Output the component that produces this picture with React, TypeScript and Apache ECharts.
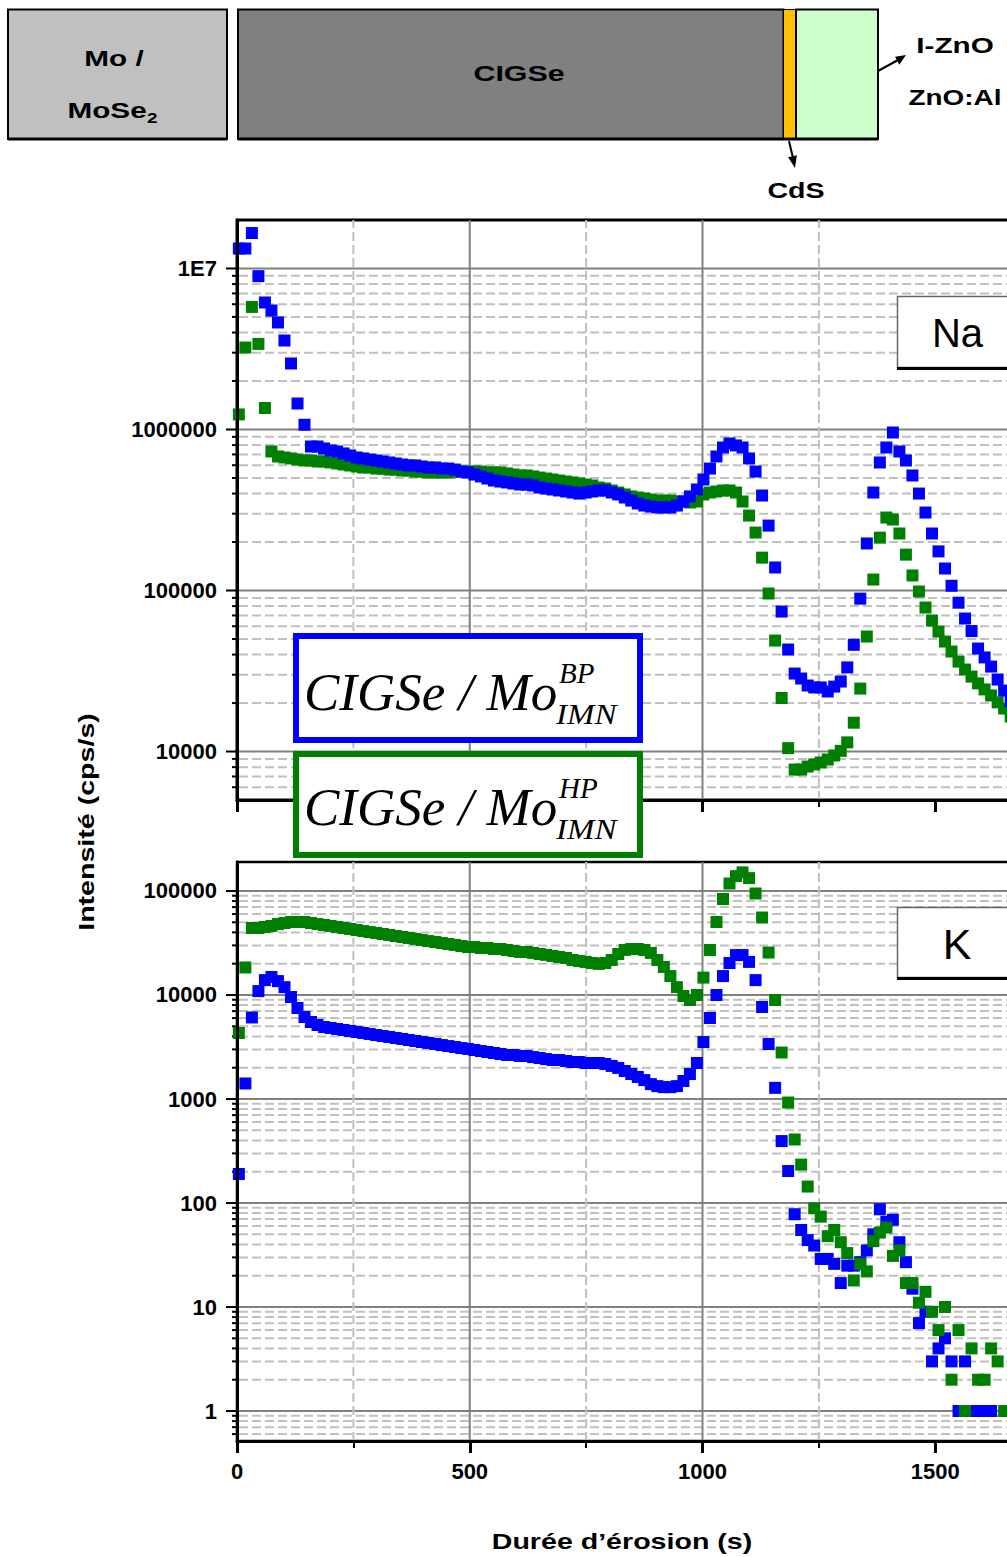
import React, { useEffect, useRef } from "react";
import * as echarts from "echarts";

// ---------- data ----------
// sputter times (s) shared by all four profiles
const times = [
  4, 18, 32, 46, 60, 74, 88, 102, 116, 130,
  145, 159, 173, 187, 201, 215, 229, 243, 257, 271,
  285, 299, 313, 327, 341, 355, 369, 383, 397, 411,
  426, 440, 454, 468, 482, 496, 510, 524, 538, 552,
  566, 580, 594, 608, 622, 636, 650, 664, 678, 692,
  707, 721, 735, 749, 763, 777, 791, 805, 819, 833,
  847, 861, 875, 889, 903, 917, 931, 945, 959, 973,
  988, 1002, 1016, 1030, 1044, 1058, 1072, 1086, 1100, 1114,
  1128, 1142, 1156, 1170, 1184, 1198, 1212, 1226, 1240, 1254,
  1269, 1283, 1297, 1311, 1325, 1339, 1353, 1367, 1381, 1395,
  1409, 1423, 1437, 1451, 1465, 1479, 1493, 1507, 1521, 1535,
  1550, 1564, 1578, 1592, 1606, 1620, 1634, 1648, 1662,
];

// Na, CIGSe / Mo BP (blue)
const naBP = [
  13300000, 13300000, 16600000, 8960000, 6150000, 5480000, 4620000, 3570000, 2570000, 1450000,
  1070000, 784000, 784000, 762000, 741000, 730000, 710000, 690000, 670000, 661000,
  651000, 642000, 633000, 624000, 615000, 606000, 598000, 598000, 589000, 581000,
  581000, 572000, 572000, 564000, 548000, 541000, 525000, 511000, 496000, 482000,
  475000, 469000, 462000, 455000, 455000, 449000, 436000, 430000, 424000, 418000,
  412000, 406000, 400000, 406000, 412000, 418000, 418000, 406000, 395000, 378000,
  362000, 347000, 337000, 332000, 328000, 328000, 328000, 337000, 357000, 384000,
  424000, 489000, 572000, 680000, 773000, 819000, 796000, 773000, 661000, 548000,
  389000, 253000, 139000, 74000, 43000, 30500, 28400, 25700, 25000, 25000,
  23600, 25300, 27200, 33300, 46000, 89000, 196000, 406000, 624000, 773000,
  958000, 730000, 642000, 518000, 400000, 305000, 226000, 175000, 137000, 107000,
  84000, 67000, 56000, 43600, 38400, 33700, 28000, 23900, 20500,
];

// Na, CIGSe / Mo HP (green)
const naHP = [
  1240000, 3230000, 5770000, 3400000, 1360000, 730000, 680000, 670000, 661000, 651000,
  642000, 642000, 633000, 633000, 624000, 615000, 606000, 598000, 589000, 581000,
  581000, 572000, 572000, 564000, 564000, 556000, 556000, 548000, 548000, 541000,
  541000, 541000, 541000, 548000, 548000, 548000, 548000, 548000, 541000, 541000,
  541000, 533000, 525000, 518000, 518000, 511000, 503000, 496000, 489000, 482000,
  475000, 469000, 462000, 455000, 449000, 436000, 430000, 418000, 406000, 395000,
  384000, 378000, 373000, 367000, 362000, 362000, 362000, 357000, 357000, 352000,
  357000, 395000, 406000, 412000, 418000, 418000, 406000, 357000, 292000, 229000,
  160000, 95800, 48900, 21500, 10500, 7730, 7730, 8070, 8310, 8550,
  8920, 9450, 10100, 11400, 15100, 24600, 51800, 117000, 213000, 284000,
  276000, 226000, 167000, 124000, 98600, 78400, 65100, 55600, 48200, 41800,
  36200, 32300, 29200, 26500, 24300, 22300, 20200, 18500, 16500,
];

// K, CIGSe / Mo BP (blue)
const kBP = [
  190, 1410, 6080, 10900, 13900, 14900, 13600, 11900, 9570, 7500,
  6140, 5500, 5150, 4920, 4820, 4710, 4610, 4510, 4410, 4310,
  4220, 4120, 4030, 3950, 3860, 3780, 3690, 3610, 3530, 3460,
  3380, 3300, 3230, 3160, 3090, 3030, 2960, 2890, 2830, 2770,
  2710, 2650, 2650, 2590, 2590, 2530, 2480, 2420, 2370, 2370,
  2320, 2270, 2270, 2220, 2220, 2220, 2170, 2080, 1990, 1860,
  1740, 1630, 1520, 1390, 1330, 1300, 1300, 1330, 1490, 1740,
  2220, 3530, 6010, 10000, 15200, 20300, 24200, 24200, 20800, 13900,
  7670, 3380, 1280, 394, 203, 78, 55, 44, 39, 29,
  29, 26, 17, 25, 25, 27, 35, 50, 87, 66,
  69, 42, 27, 15, 7, 9, 3, 4, 5, 3,
  1, 3, 1, 1, 1, 1, null, null, null,
];

// K, CIGSe / Mo HP (green)
const kHP = [
  4310, 18400, 44100, 44100, 45100, 46100, 48100, 49200, 50300, 50300,
  50300, 49200, 48100, 47100, 46100, 45100, 44100, 43100, 42200, 41200,
  40300, 39500, 38600, 37800, 36900, 36100, 35300, 34600, 33800, 33000,
  32300, 31600, 30900, 30300, 29600, 28900, 28900, 28300, 28300, 27700,
  27700, 27100, 26500, 25900, 25900, 25400, 24800, 24300, 23700, 23200,
  22700, 21700, 21200, 20800, 20300, 19900, 20300, 21700, 24800, 27100,
  27700, 27700, 27100, 25400, 21700, 18600, 15200, 11900, 9780, 8950,
  10000, 14700, 27100, 50300, 83800, 118000, 139000, 151000, 133000, 94600,
  55600, 25600, 8950, 2800, 925, 408, 234, 144, 89, 74,
  48, 55, 42, 33, 18, 26, 22, 43, 52, 58,
  31, 35, 17, 17, 11, 14, 9, 6, 10, 2,
  6, 1, 4, 2, 2, 4, 3, 1, null,
];

// grid / tick values
const naMajor = [10000, 100000, 1000000, 10000000];
const naMinor = [
  6000, 7000, 8000, 9000,
  20000, 30000, 40000, 50000, 60000, 70000, 80000, 90000,
  200000, 300000, 400000, 500000, 600000, 700000, 800000, 900000,
  2000000, 3000000, 4000000, 5000000, 6000000, 7000000, 8000000, 9000000,
];
const kMajor = [1, 10, 100, 1000, 10000, 100000];
const kMinor = [
  0.6, 0.7, 0.8, 0.9,
  2, 3, 4, 5, 6, 7, 8, 9,
  20, 30, 40, 50, 60, 70, 80, 90,
  200, 300, 400, 500, 600, 700, 800, 900,
  2000, 3000, 4000, 5000, 6000, 7000, 8000, 9000,
  20000, 30000, 40000, 50000, 60000, 70000, 80000, 90000,
];
const xSolidGrid = [500, 1000];
const xDashedGrid = [250, 750, 1250];

const X_MIN = 0;
const X_MAX = 2000;
const NA_MIN = 5000;
const NA_MAX = 20000000;
const K_MIN = 0.515;
const K_MAX = 190000;

const FONT = "'Liberation Sans', Arial, sans-serif";
const SERIF = "'Liberation Serif', 'Times New Roman', serif";
const BLUE = "#0000ff";
const GREEN = "#008000";

// ---------- helpers ----------
const pairs = (vals: (number | null)[]) =>
  times.map((t, i) => (vals[i] == null ? null : [t, vals[i]])).filter((p) => p !== null);

const isPow10 = (v: number) => {
  const l = Math.log10(v);
  return Math.abs(l - Math.round(l)) < 1e-6;
};
const fmtY = (v: number) => {
  if (!isPow10(v)) return "";
  if (v >= 1e7) return "1E" + Math.round(Math.log10(v));
  return String(Math.round(v));
};

function hGridSeries(idx: number, majors: number[], minors: number[]) {
  const data = [...majors.map((v) => [X_MIN, v, 1]), ...minors.map((v) => [X_MIN, v, 0])];
  return {
    type: "custom",
    xAxisIndex: idx,
    yAxisIndex: idx,
    clip: false,
    silent: true,
    z: 1,
    data,
    renderItem: (params: any, api: any) => {
      const v = api.value(1);
      const major = api.value(2) === 1;
      const p0 = api.coord([X_MIN, v]);
      const p1 = api.coord([X_MAX, v]);
      return {
        type: "group",
        children: [
          {
            type: "line",
            shape: { x1: p0[0] + 2, y1: p0[1], x2: p1[0], y2: p1[1] },
            style: {
              stroke: major ? "#808080" : "#c0c0c0",
              lineWidth: 2,
              lineDash: major ? null : [9, 4],
            },
          },
          {
            type: "line",
            shape: { x1: p0[0] - (major ? 11 : 5), y1: p0[1], x2: p0[0], y2: p0[1] },
            style: { stroke: "#000", lineWidth: 2 },
          },
        ],
      };
    },
  };
}

function vGridSeries(idx: number, yMin: number, yMax: number) {
  const data = [...xSolidGrid.map((x) => [x, yMin, 1]), ...xDashedGrid.map((x) => [x, yMin, 0])];
  return {
    type: "custom",
    xAxisIndex: idx,
    yAxisIndex: idx,
    clip: false,
    silent: true,
    z: 1,
    data,
    renderItem: (params: any, api: any) => {
      const x = api.value(0);
      const solid = api.value(2) === 1;
      const p0 = api.coord([x, yMin]);
      const p1 = api.coord([x, yMax]);
      return {
        type: "line",
        shape: { x1: p0[0], y1: p0[1], x2: p1[0], y2: p1[1] },
        style: {
          stroke: solid ? "#808080" : "#c0c0c0",
          lineWidth: 2,
          lineDash: solid ? null : [9, 4],
        },
      };
    },
  };
}

function xAxisDef(gridIndex: number, showLabels: boolean) {
  return {
    type: "value",
    gridIndex,
    min: X_MIN,
    max: X_MAX,
    interval: 500,
    z: 3,
    axisLine: { show: true, onZero: false, lineStyle: { color: "#000", width: 3 } },
    axisTick: { show: true, inside: false, length: 12, lineStyle: { color: "#000", width: 3 } },
    minorTick: { show: true, splitNumber: 2, length: 7, lineStyle: { color: "#000", width: 2 } },
    splitLine: { show: false },
    minorSplitLine: { show: false },
    axisLabel: showLabels
      ? {
          show: true,
          margin: 19,
          color: "#000",
          fontFamily: FONT,
          fontWeight: "bold",
          fontSize: 22,
          formatter: (v: number) => (v % 500 === 0 && v <= 1500 ? String(v) : ""),
        }
      : { show: false },
  };
}

function yAxisDef(gridIndex: number, min: number, max: number) {
  return {
    type: "log",
    logBase: 10,
    gridIndex,
    min,
    max,
    z: 3,
    axisLine: { show: true, onZero: false, lineStyle: { color: "#000", width: 3 } },
    axisTick: { show: false },
    splitLine: { show: false },
    axisLabel: {
      show: true,
      margin: 20,
      color: "#000",
      fontFamily: FONT,
      fontWeight: "bold",
      fontSize: 22,
      formatter: fmtY,
    },
  };
}

const rect = (x: number, y: number, w: number, h: number, fill: string, stroke = "#000", lw = 2, z = 100) => ({
  type: "rect",
  z,
  shape: { x, y, width: w, height: h },
  style: { fill, stroke, lineWidth: lw },
});
const seg = (x1: number, y1: number, x2: number, y2: number, lw: number, color = "#000", z = 101) => ({
  type: "line",
  z,
  shape: { x1, y1, x2, y2 },
  style: { stroke: color, lineWidth: lw },
});
const label = (
  text: string,
  x: number,
  y: number,
  font: string,
  opts: { align?: string; scaleX?: number; rotation?: number; z?: number } = {}
) => ({
  type: "text",
  z: opts.z ?? 102,
  x,
  y,
  scaleX: opts.scaleX ?? 1,
  rotation: opts.rotation ?? 0,
  style: {
    text,
    font,
    fill: "#000",
    align: opts.align ?? "center",
    verticalAlign: "middle",
  },
});

const diagFont = `bold 22px ${FONT}`;

const graphic = [
  // layer stack diagram
  rect(8, 9.5, 219, 129.5, "#c0c0c0"),
  rect(238, 9.5, 545.5, 129.5, "#808080"),
  rect(783.5, 9.5, 12.5, 129.5, "#ffc000", "#000", 1),
  rect(796, 9.5, 82, 129.5, "#ccffcc"),
  seg(8, 139, 227, 139, 3),
  seg(238, 139, 878, 139, 3),
  // arrows
  seg(789, 141, 793, 158, 2),
  { type: "polygon", z: 101, shape: { points: [[795, 168], [796.9, 155.3], [788.1, 157.3]] }, style: { fill: "#000" } },
  seg(878, 71, 898, 60, 2),
  { type: "polygon", z: 101, shape: { points: [[906, 55], [899.3, 64.7], [895.1, 56.7]] }, style: { fill: "#000" } },
  label("Mo /", 114, 58, diagFont, { scaleX: 1.35 }),
  label("MoSe", 67.5, 110, diagFont, { align: "left", scaleX: 1.35 }),
  label("2", 147, 118, `bold 14px ${FONT}`, { align: "left", scaleX: 1.35 }),
  label("CIGSe", 519, 74, diagFont, { scaleX: 1.38 }),
  label("CdS", 796, 190, diagFont, { scaleX: 1.3 }),
  label("I-ZnO", 955, 45, diagFont, { scaleX: 1.35 }),
  label("ZnO:Al", 955, 97, diagFont, { scaleX: 1.27 }),

  // legend boxes
  rect(296, 636, 344, 104, "#ffffff", BLUE, 6, 110),
  label("CIGSe / Mo", 304, 692, `italic 53px ${SERIF}`, { align: "left", z: 111 }),
  label("BP", 559, 673, `italic 29px ${SERIF}`, { align: "left", z: 111 }),
  label("IMN", 556, 714, `italic 30px ${SERIF}`, { align: "left", z: 111, scaleX: 1.1 }),
  rect(296, 754, 344, 101, "#ffffff", GREEN, 6, 110),
  label("CIGSe / Mo", 304, 807, `italic 53px ${SERIF}`, { align: "left", z: 111 }),
  label("HP", 559, 788, `italic 29px ${SERIF}`, { align: "left", z: 111 }),
  label("IMN", 556, 829, `italic 30px ${SERIF}`, { align: "left", z: 111, scaleX: 1.1 }),

  // element boxes
  rect(897.5, 296.5, 130, 71, "#ffffff", "#666666", 1.5, 110),
  seg(897, 368.5, 1010, 368.5, 3, "#000", 111),
  label("Na", 957.5, 333, `40px ${FONT}`, { z: 112 }),
  rect(897.5, 907.5, 130, 70, "#ffffff", "#666666", 1.5, 110),
  seg(897, 978.5, 1010, 978.5, 3, "#000", 111),
  label("K", 957, 944, `43px ${FONT}`, { z: 112 }),

  // axis titles
  label("Intensité (cps/s)", 86, 822, `bold 22px ${FONT}`, { rotation: Math.PI / 2, scaleX: 1.3 }),
  label("Durée d\u2019érosion (s)", 622, 1541, `bold 22px ${FONT}`, { scaleX: 1.3 }),
];

const gridBase = {
  left: 237,
  width: 931,
  show: true,
  borderColor: "#000",
  backgroundColor: "transparent",
  containLabel: false,
  outerBoundsMode: "none",
};

const scatter = (name: string, idx: number, color: string, vals: (number | null)[]) => ({
  name,
  type: "scatter",
  xAxisIndex: idx,
  yAxisIndex: idx,
  symbol: "rect",
  symbolSize: 12,
  itemStyle: { color, opacity: 1 },
  emphasis: { disabled: true },
  z: 2,
  data: pairs(vals),
});

const option = {
  animation: false,
  backgroundColor: "#ffffff",
  grid: [
    { ...gridBase, top: 220, height: 580, borderWidth: 3 },
    { ...gridBase, top: 862, height: 579, borderWidth: 2.5 },
  ],
  xAxis: [xAxisDef(0, false), xAxisDef(1, true)],
  yAxis: [yAxisDef(0, NA_MIN, NA_MAX), yAxisDef(1, K_MIN, K_MAX)],
  graphic,
  series: [
    hGridSeries(0, naMajor, naMinor),
    vGridSeries(0, NA_MIN, NA_MAX),
    hGridSeries(1, kMajor, kMinor),
    vGridSeries(1, K_MIN, K_MAX),
    scatter("Na CIGSe/Mo HP", 0, GREEN, naHP),
    scatter("Na CIGSe/Mo BP", 0, BLUE, naBP),
    scatter("K CIGSe/Mo BP", 1, BLUE, kBP),
    scatter("K CIGSe/Mo HP", 1, GREEN, kHP),
  ],
};

export default function App() {
  const ref = useRef<HTMLDivElement>(null);
  useEffect(() => {
    const el = ref.current;
    if (!el) return;
    const chart = echarts.init(el, null, { renderer: "svg" });
    chart.setOption(option as any);
    return () => {
      chart.dispose();
    };
  }, []);
  return (
    <div
      ref={ref}
      style={{ position: "fixed", left: 0, top: 0, width: 1007, height: 1557, background: "#ffffff" }}
    />
  );
}
